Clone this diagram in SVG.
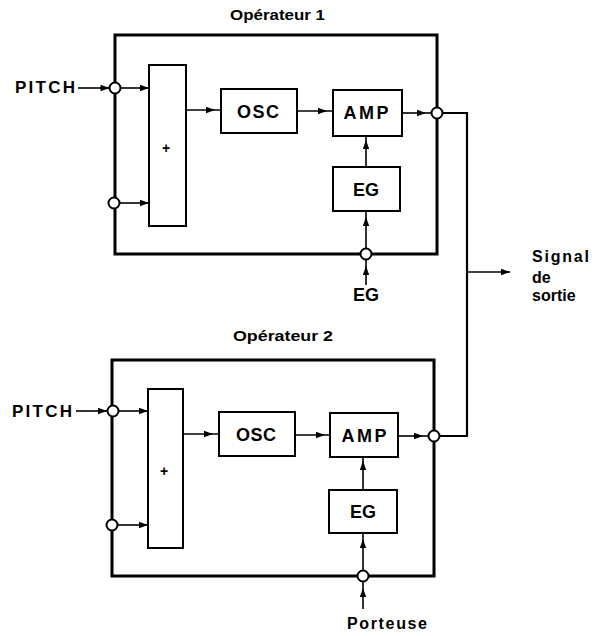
<svg xmlns="http://www.w3.org/2000/svg" width="595" height="636" viewBox="0 0 595 636">
<defs>
<marker id="ah" markerUnits="userSpaceOnUse" markerWidth="10" markerHeight="8" refX="9" refY="4" orient="auto" overflow="visible">
<path d="M0,0.8 L9,4 L0,7.2 Z" fill="#000"/>
</marker>
<style>
.frame{fill:none;stroke:#000;stroke-width:3}
.box{fill:#fff;stroke:#000;stroke-width:2}
.node{fill:#fff;stroke:#000;stroke-width:2}
.w{fill:none;stroke:#000;stroke-width:1.6}
.a{fill:none;stroke:#000;stroke-width:1.6;marker-end:url(#ah)}
.m{fill:none;stroke:#000;stroke-width:1.6;marker-mid:url(#ah)}
.out{fill:none;stroke:#000;stroke-width:2.2}
text{font-family:"Liberation Sans",Arial,sans-serif;font-weight:bold;fill:#000}
.lbl{font-size:17px}
.bx{font-size:18px;text-anchor:middle}
.ttl{font-size:15px}
.sig{font-size:16px}
</style>
</defs>
<rect width="595" height="636" fill="#fff"/>

<g id="connectors">
<!-- operator 1 -->
<path class="a" d="M78,88 L109.5,88"/>
<path class="a" d="M121,88 L149,88"/>
<path class="a" d="M119,203 L149,203"/>
<path class="m" d="M186,110 L215,110 L221,110"/>
<path class="m" d="M297,111 L327,111 L333,111"/>
<path class="m" d="M402,113 L426,113 L431.5,113"/>
<path class="m" d="M366,167 L366,140 L366,136"/>
<path class="m" d="M366,248.5 L366,217 L366,211"/>
<path class="m" d="M366,285 L366,266 L366,259.5"/>
<!-- operator 2 -->
<path class="a" d="M76,411 L107,411"/>
<path class="a" d="M119,411 L148,411"/>
<path class="a" d="M118,525 L148,525"/>
<path class="m" d="M183,434 L213,434 L219,434"/>
<path class="m" d="M295,435 L325,435 L330,435"/>
<path class="m" d="M398,436 L423,436 L428.5,436"/>
<path class="m" d="M363,490 L363,461 L363,457"/>
<path class="m" d="M363,570.5 L363,539 L363,533"/>
<path class="m" d="M363,609 L363,588 L363,581.5"/>
<!-- output -->
<path class="out" d="M442.5,113 L467,113 L467,436 L439.5,436"/>
<path class="a" d="M467,272 L510,272"/>
</g>

<g id="operateur1">
<text class="ttl" x="230" y="20" textLength="95" lengthAdjust="spacingAndGlyphs">Opérateur 1</text>
<rect class="frame" x="115" y="35" width="322" height="219"/>
</g>
<g id="pitch1"><text class="lbl" x="15" y="93" textLength="60" lengthAdjust="spacing">PITCH</text></g>
<g id="n1a"><circle class="node" cx="115" cy="88" r="5.5"/></g>
<g id="n1b"><circle class="node" cx="114" cy="203" r="5.5"/></g>
<g id="plus1"><rect class="box" x="149" y="65" width="37" height="161"/><text x="166" y="153" style="font-size:14px;text-anchor:middle">+</text></g>
<g id="osc1"><rect class="box" x="221" y="89" width="76" height="44"/><text class="bx" x="258" y="118" textLength="42" lengthAdjust="spacing">OSC</text></g>
<g id="amp1"><rect class="box" x="333" y="90" width="69" height="46"/><text class="bx" x="366" y="118.5" textLength="45" lengthAdjust="spacing">AMP</text></g>
<g id="eg1"><rect class="box" x="333" y="167" width="67" height="44"/><text class="bx" x="366" y="196">EG</text></g>
<g id="out1"><circle class="node" cx="437" cy="113" r="5.5"/></g>
<g id="n1c"><circle class="node" cx="366" cy="254" r="5.5"/></g>
<g id="eglabel"><text class="bx" x="366" y="301">EG</text></g>

<g id="signal">
<text class="sig" x="532" y="262" textLength="57" lengthAdjust="spacing">Signal</text>
<text class="sig" x="532" y="283">de</text>
<text class="sig" x="532" y="301">sortie</text>
</g>

<g id="operateur2">
<text class="ttl" x="233" y="341" textLength="100" lengthAdjust="spacingAndGlyphs">Opérateur 2</text>
<rect class="frame" x="112" y="360" width="322" height="216"/>
</g>
<g id="pitch2"><text class="lbl" x="12" y="417" textLength="60" lengthAdjust="spacing">PITCH</text></g>
<g id="n2a"><circle class="node" cx="113" cy="411" r="5.5"/></g>
<g id="n2b"><circle class="node" cx="112" cy="525" r="5.5"/></g>
<g id="plus2"><rect class="box" x="148" y="389" width="35" height="159"/><text x="164" y="476" style="font-size:14px;text-anchor:middle">+</text></g>
<g id="osc2"><rect class="box" x="219" y="412" width="76" height="44"/><text class="bx" x="256" y="440.5" textLength="40" lengthAdjust="spacing">OSC</text></g>
<g id="amp2"><rect class="box" x="330" y="413" width="68" height="44"/><text class="bx" x="364" y="441.5" textLength="45" lengthAdjust="spacing">AMP</text></g>
<g id="eg2"><rect class="box" x="329" y="490" width="68" height="43"/><text class="bx" x="363" y="518">EG</text></g>
<g id="out2"><circle class="node" cx="434" cy="436" r="5.5"/></g>
<g id="n2c"><circle class="node" cx="363" cy="576" r="5.5"/></g>
<g id="porteuse"><text class="sig" x="347" y="629" textLength="80" lengthAdjust="spacing">Porteuse</text></g>
</svg>
